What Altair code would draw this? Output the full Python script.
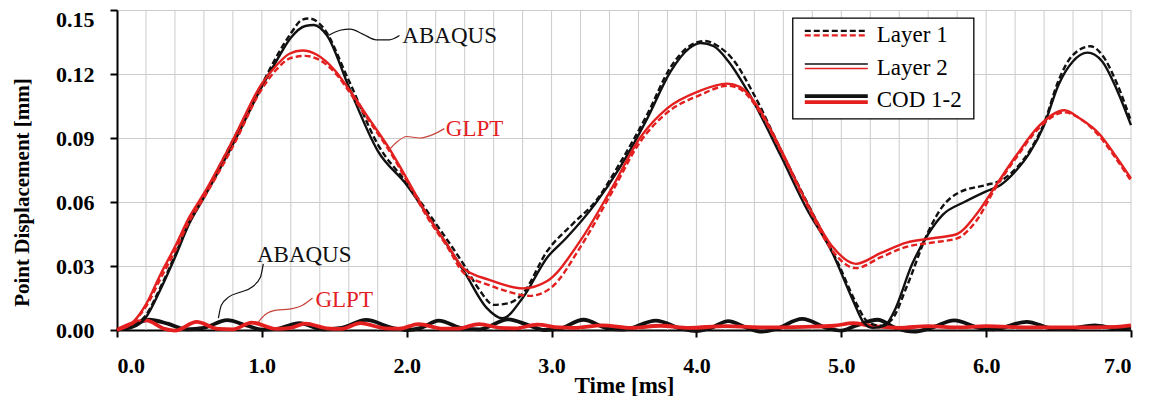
import altair as alt
import pandas as pd

# ---------------- data ----------------
# Layer 1, ABAQUS (black dashed)
L1A_T = [0.0, 0.1, 0.2, 0.3, 0.4, 0.5, 0.6, 0.8, 1.0, 1.1, 1.2, 1.28, 1.33, 1.42, 1.6, 1.8, 2.0, 2.2, 2.4, 2.5,
         2.6, 2.7, 2.8, 2.97, 3.15, 3.3, 3.47, 3.66, 3.82, 3.95, 4.06, 4.15, 4.25, 4.4, 4.6, 4.8, 4.98, 5.1,
         5.18, 5.27, 5.35, 5.45, 5.6, 5.7, 5.8, 6.0, 6.1, 6.21, 6.3, 6.4, 6.5, 6.6, 6.72, 6.8, 6.9, 7.0]
L1A_V = [0.0, 0.0015, 0.007, 0.020, 0.035, 0.051, 0.063, 0.089, 0.115, 0.128, 0.139, 0.1455, 0.146, 0.142,
         0.117, 0.087, 0.069, 0.050, 0.030, 0.019, 0.0118, 0.0125, 0.017, 0.037, 0.050, 0.060, 0.078, 0.101,
         0.123, 0.133, 0.1355, 0.133, 0.127, 0.110, 0.082, 0.055, 0.031, 0.013, 0.004, 0.002, 0.005, 0.020,
         0.046, 0.058, 0.064, 0.068, 0.070, 0.076, 0.084, 0.097, 0.117, 0.129, 0.133, 0.129, 0.116, 0.098]

# Layer 2, ABAQUS (black solid)
L2A_T = [0.0, 0.1, 0.2, 0.3, 0.4, 0.5, 0.6, 0.8, 1.0, 1.1, 1.2, 1.3, 1.36, 1.45, 1.6, 1.8, 2.0, 2.2, 2.4,
         2.55, 2.66, 2.8, 2.97, 3.1, 3.3, 3.47, 3.66, 3.82, 3.95, 4.03, 4.12, 4.22, 4.37, 4.58, 4.76, 4.94,
         5.08, 5.16, 5.22, 5.3, 5.36, 5.49, 5.6, 5.7, 5.85, 6.0, 6.1, 6.21, 6.3, 6.4, 6.5, 6.6, 6.7, 6.8, 6.9, 7.0]
L2A_V = [0.0, 0.001, 0.006, 0.019, 0.034, 0.050, 0.062, 0.087, 0.114, 0.126, 0.137, 0.1425, 0.143, 0.138,
         0.114, 0.084, 0.068, 0.048, 0.027, 0.0105, 0.0055, 0.015, 0.034, 0.043, 0.059, 0.076, 0.099, 0.121,
         0.132, 0.1345, 0.133, 0.126, 0.110, 0.082, 0.057, 0.036, 0.014, 0.003, 0.001, 0.002, 0.008, 0.031,
         0.045, 0.054, 0.060, 0.065, 0.068, 0.075, 0.083, 0.096, 0.115, 0.126, 0.130, 0.126, 0.113, 0.096]

# Layer 1, GLPT (red dashed)
L1G_T = [0.0, 0.1, 0.2, 0.3, 0.4, 0.5, 0.6, 0.8, 1.0, 1.1, 1.2, 1.3, 1.4, 1.5, 1.61, 1.75, 1.88, 2.0, 2.15,
         2.28, 2.39, 2.57, 2.7, 2.85, 3.0, 3.2, 3.42, 3.61, 3.8, 4.02, 4.22, 4.3, 4.44, 4.58, 4.76, 4.94, 5.1,
         5.27, 5.45, 5.63, 5.8, 5.93, 6.06, 6.21, 6.37, 6.54, 6.65, 6.78, 6.9, 7.0]
L1G_V = [0.0, 0.003, 0.011, 0.024, 0.037, 0.051, 0.062, 0.086, 0.113, 0.122, 0.1275, 0.1285, 0.1265, 0.121,
         0.111, 0.097, 0.084, 0.070, 0.052, 0.039, 0.027, 0.021, 0.018, 0.016, 0.020, 0.039, 0.065, 0.088,
         0.102, 0.110, 0.1145, 0.113, 0.102, 0.084, 0.059, 0.037, 0.029, 0.034, 0.039, 0.041, 0.043, 0.051,
         0.066, 0.081, 0.095, 0.102, 0.099, 0.091, 0.080, 0.070]

# Layer 2, GLPT (red solid)
L2G_T = [0.0, 0.1, 0.2, 0.3, 0.4, 0.5, 0.6, 0.8, 1.0, 1.1, 1.19, 1.28, 1.38, 1.5, 1.61, 1.75, 1.88, 2.0,
         2.15, 2.28, 2.39, 2.57, 2.8, 2.97, 3.2, 3.42, 3.61, 3.8, 4.02, 4.21, 4.3, 4.44, 4.58, 4.76, 4.94,
         5.1, 5.27, 5.45, 5.63, 5.8, 5.93, 6.06, 6.21, 6.37, 6.54, 6.65, 6.78, 6.9, 7.0]
L2G_V = [0.0, 0.003, 0.012, 0.026, 0.039, 0.053, 0.064, 0.089, 0.1155, 0.124, 0.1295, 0.131, 0.129, 0.122,
         0.112, 0.098, 0.085, 0.071, 0.053, 0.040, 0.029, 0.0235, 0.0195, 0.023, 0.042, 0.067, 0.090, 0.104,
         0.112, 0.1155, 0.114, 0.103, 0.085, 0.060, 0.039, 0.031, 0.036, 0.041, 0.043, 0.045, 0.054, 0.067,
         0.082, 0.096, 0.103, 0.099, 0.092, 0.081, 0.071]

# COD 1-2, ABAQUS (black thick)
CODA_T = [0.0, 0.1, 0.22, 0.35, 0.48, 0.6, 0.76, 0.9, 1.0, 1.1, 1.26, 1.42, 1.55, 1.72, 1.9, 2.0, 2.1, 2.22,
          2.4, 2.5, 2.7, 2.85, 2.95, 3.05, 3.22, 3.4, 3.5, 3.72, 3.9, 4.0, 4.1, 4.22, 4.35, 4.45, 4.55, 4.73,
          4.9, 5.0, 5.1, 5.25, 5.38, 5.5, 5.62, 5.78, 5.95, 6.05, 6.28, 6.45, 6.55, 6.75, 6.9, 7.0]
CODA_V = [0.0, 0.002, 0.0048, 0.003, 0.0003, 0.001, 0.0046, 0.002, 0.0002, 0.0005, 0.0032, 0.0003, 0.001,
          0.0047, 0.001, 0.0, 0.001, 0.0044, 0.0005, 0.0003, 0.005, 0.002, 0.0, 0.0005, 0.0048, 0.0005, 0.0002,
          0.0044, 0.0005, -0.0005, 0.001, 0.0042, 0.001, -0.0008, 0.0005, 0.0052, 0.001, -0.0003, 0.002,
          0.0048, 0.0008, -0.0008, 0.001, 0.0045, 0.001, 0.0003, 0.0038, 0.0008, 0.0005, 0.0022, 0.0008, 0.001]

# COD 1-2, GLPT (red thick)
CODG_T = [0.0, 0.1, 0.2, 0.33, 0.4, 0.55, 0.7, 0.8, 0.93, 1.1, 1.2, 1.3, 1.45, 1.55, 1.68, 1.85, 1.95, 2.08,
          2.25, 2.35, 2.5, 2.65, 2.75, 2.9, 3.05, 3.15, 3.35, 3.55, 3.75, 3.95, 4.2, 4.5, 4.75, 4.95, 5.08,
          5.2, 5.4, 5.6, 5.8, 6.0, 6.3, 6.6, 6.9, 7.0]
CODG_V = [0.0, 0.003, 0.0045, 0.0005, -0.0003, 0.0038, 0.0005, 0.0003, 0.0035, 0.0005, 0.001, 0.003, 0.0008,
          0.0005, 0.0032, 0.0008, 0.0006, 0.0028, 0.0006, 0.0006, 0.0028, 0.001, 0.0008, 0.0025, 0.0012, 0.001,
          0.0022, 0.001, 0.002, 0.001, 0.0018, 0.0012, 0.0015, 0.002, 0.0032, 0.002, 0.001, 0.0018, 0.0012,
          0.0018, 0.0012, 0.0012, 0.0015, 0.0022]

# tick values / labels
X_TICKS = [0, 1, 2, 3, 4, 5, 6, 7]
Y_TICKS = [0.0, 0.03, 0.06, 0.09, 0.12, 0.15]
X_GRID = [0.2, 0.4, 0.6, 0.8, 1.0, 1.2, 1.4, 1.6, 1.8, 2.0, 2.2, 2.4, 2.6, 2.8, 3.0, 3.2, 3.4, 3.6, 3.8, 4.0,
          4.2, 4.4, 4.6, 4.8, 5.0, 5.2, 5.4, 5.6, 5.8, 6.0, 6.2, 6.4, 6.6, 6.8, 7.0]

# annotation labels and their leader curves (data coordinates)
ANN_TEXT = ["ABAQUS", "GLPT", "ABAQUS", "GLPT"]
ANN_T = [1.97, 2.27, 0.966, 1.37]
ANN_V = [0.138, 0.094, 0.0353, 0.014]
ANN_COLOR = ["black", "red", "black", "red"]

LEAD1_T = [1.46, 1.54, 1.61, 1.70, 1.79, 1.88, 1.95]
LEAD1_V = [0.138, 0.1405, 0.141, 0.1386, 0.136, 0.136, 0.138]
LEAD2_T = [1.88, 1.93, 2.0, 2.09, 2.18, 2.26]
LEAD2_V = [0.0845, 0.088, 0.0907, 0.090, 0.0916, 0.0944]
LEAD3_T = [0.70, 0.72, 0.77, 0.85, 0.93, 0.99, 1.01]
LEAD3_V = [0.0056, 0.0116, 0.0154, 0.0177, 0.020, 0.0247, 0.031]
LEAD4_T = [0.975, 1.02, 1.10, 1.19, 1.28, 1.35]
LEAD4_V = [0.0037, 0.007, 0.0093, 0.0098, 0.0116, 0.015]

LEGEND_LABELS = ["Layer 1", "Layer 2", "COD 1-2"]
LEGEND_ROW_V = [0.1383, 0.1228, 0.1078]

# ---------------- style ----------------
FONT = "Liberation Serif"
BLACK = "#111111"
RED = "#e3201f"
GRID = "#cccccc"
PX_PER_V = 320 / 0.15

X_ENC = alt.X("t:Q", scale=alt.Scale(domain=[0, 7], nice=False, zero=False),
              axis=alt.Axis(values=X_TICKS, format=".1f", title="Time [ms]", grid=False,
                            labelFont=FONT, labelFontSize=22, labelFontWeight="bold", labelColor="black",
                            labelPadding=18, tickSize=7, tickWidth=2, tickColor="black",
                            domainColor="black", domainWidth=2,
                            titleFont=FONT, titleFontSize=23, titleFontWeight="bold", titleColor="black",
                            titleY=55, titleBaseline="middle"))
Y_ENC = alt.Y("v:Q", scale=alt.Scale(domain=[0, 0.15], nice=False, zero=False),
              axis=alt.Axis(values=Y_TICKS, format=".2f", title="Point Displacement [mm]", grid=True,
                            gridColor=GRID, gridWidth=1,
                            labelFont=FONT, labelFontSize=22, labelFontWeight="bold", labelColor="black",
                            labelPadding=16, tickSize=7, tickWidth=2, tickColor="black",
                            labelOffset={"condition": {"test": "datum.value >= 0.149", "value": 9}, "value": 0},
                            domainColor="black", domainWidth=2,
                            titleFont=FONT, titleFontSize=21, titleFontWeight="bold", titleColor="black",
                            titleX=-95, titleY=182, titleAlign="center", titleBaseline="middle",
                            titleAngle=270))


def curve(ts, vs, color, width, dash=None, interp="monotone"):
    df = pd.DataFrame({"t": ts, "v": vs, "i": list(range(len(ts)))})
    kw = dict(color=color, strokeWidth=width, interpolate=interp, clip=False)
    if dash:
        kw["strokeDash"] = dash
    return alt.Chart(df).mark_line(**kw).encode(x=X_ENC, y=Y_ENC, order="i:Q")


grid = alt.Chart(pd.DataFrame({"t": X_GRID})).mark_rule(color=GRID, strokeWidth=1).encode(x=X_ENC)

layers = [grid]
# COD curves
layers.append(curve(CODA_T, CODA_V, BLACK, 3.8))
layers.append(curve(CODG_T, CODG_V, RED, 3.8))
# layer curves
layers.append(curve(L1A_T, L1A_V, BLACK, 2.4, dash=[6, 3]))
layers.append(curve(L2A_T, L2A_V, BLACK, 2.4))
layers.append(curve(L1G_T, L1G_V, RED, 2.4, dash=[6, 3]))
layers.append(curve(L2G_T, L2G_V, RED, 2.4))

# leaders
layers.append(curve(LEAD1_T, LEAD1_V, BLACK, 1.2))
layers.append(curve(LEAD2_T, LEAD2_V, "#c8443c", 1.2))
layers.append(curve(LEAD3_T, LEAD3_V, BLACK, 1.2))
layers.append(curve(LEAD4_T, LEAD4_V, "#c8443c", 1.2))

ann = pd.DataFrame({"t": ANN_T, "v": ANN_V, "label": ANN_TEXT, "c": ANN_COLOR})
layers.append(
    alt.Chart(ann).mark_text(align="left", baseline="middle", font=FONT, fontSize=23).encode(
        x=X_ENC, y=Y_ENC, text="label:N",
        color=alt.Color("c:N", scale=alt.Scale(domain=["black", "red"], range=[BLACK, RED]), legend=None))
)

# legend drawn in data coordinates
box = pd.DataFrame({"t": [4.665], "t2": [5.915], "v": [0.0990], "v2": [0.1462]})
layers.append(
    alt.Chart(box).mark_rect(fill="white", stroke="black", strokeWidth=1.3).encode(
        x=X_ENC, x2="t2:Q", y=Y_ENC, y2="v2:Q")
)
LEG_X = [4.748, 5.183]
d_up = 4 / PX_PER_V
d_dn = 0.5 / PX_PER_V
r1, r2, r3 = LEGEND_ROW_V
layers.append(curve(LEG_X, [r1 + d_up] * 2, BLACK, 2.2, dash=[6, 3], interp="linear"))
layers.append(curve(LEG_X, [r1 - d_dn] * 2, RED, 2.2, dash=[6, 3], interp="linear"))
layers.append(curve(LEG_X, [r2 + d_up] * 2, BLACK, 1.6, interp="linear"))
layers.append(curve(LEG_X, [r2 - d_dn] * 2, RED, 1.6, interp="linear"))
layers.append(curve(LEG_X, [r3 + d_up] * 2, BLACK, 3.8, interp="linear"))
layers.append(curve(LEG_X, [r3 - 2 / PX_PER_V] * 2, RED, 3.8, interp="linear"))
leg_txt = pd.DataFrame({"t": [5.245] * 3, "v": LEGEND_ROW_V, "label": LEGEND_LABELS})
layers.append(
    alt.Chart(leg_txt).mark_text(align="left", baseline="middle", font=FONT, fontSize=23,
                                  color="black").encode(x=X_ENC, y=Y_ENC, text="label:N")
)

chart = alt.layer(*layers).properties(
    width=1014, height=320,
    padding={"left": 109, "top": 2, "right": 12, "bottom": 66},
    autosize=alt.AutoSizeParams(type="none"),
    background="white",
).configure_view(stroke=None)

chart.save("out.html", embed_options={"renderer": "svg", "actions": False})
